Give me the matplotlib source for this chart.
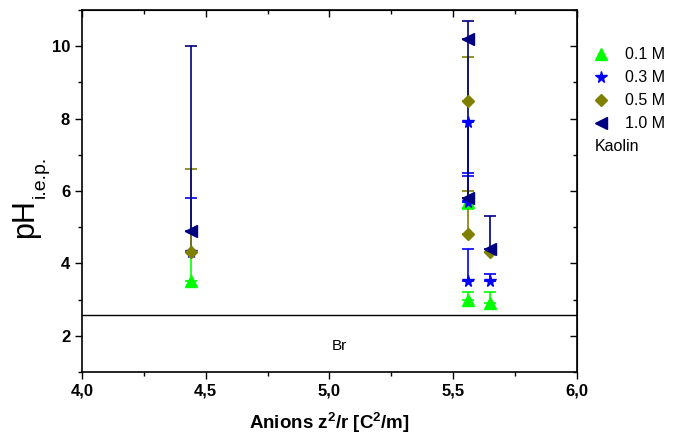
import numpy as np
import matplotlib
matplotlib.use("Agg")
import matplotlib.pyplot as plt
from matplotlib.ticker import MultipleLocator, FuncFormatter

plt.rcParams["font.family"] = ["Liberation Sans", "DejaVu Sans"]
plt.rcParams["mathtext.fontset"] = "custom"
plt.rcParams["mathtext.rm"] = "Liberation Sans"
plt.rcParams["mathtext.it"] = "Liberation Sans:italic"
plt.rcParams["mathtext.bf"] = "Liberation Sans:bold"

# anion z^2/r positions and isoelectric points per electrolyte concentration
x_01 = [4.44, 5.56, 5.56, 5.65]
y_01 = [3.5, 5.7, 3.0, 2.9]
up_01 = [0.8, 0.0, 0.2, 0.3]
dn_01 = [0.0, 0.2, 0.0, 0.0]

x_03 = [4.44, 5.56, 5.56, 5.56, 5.65]
y_03 = [4.3, 7.9, 5.7, 3.5, 3.5]
up_03 = [1.5, 0.0, 0.7, 0.9, 0.2]
dn_03 = [0.0, 1.4, 0.0, 0.0, 0.0]

x_05 = [4.44, 5.56, 5.56, 5.65]
y_05 = [4.3, 8.5, 4.8, 4.3]
up_05 = [2.3, 1.2, 1.2, 0.0]

x_10 = [4.44, 5.56, 5.56, 5.65]
y_10 = [4.9, 10.2, 5.8, 4.4]
up_10 = [5.1, 0.5, 4.4, 0.9]

kaolin_ph = 2.56
anion_label = "Br"
anion_label_pos = (5.04, 1.72)

fig = plt.figure(figsize=(6.74, 4.38), dpi=100)
ax = fig.add_axes([0.1217, 0.151, 0.7343, 0.826])

series = [
    (x_01, y_01, [dn_01, up_01], "^", "#00FF00", 8, "0.1 M"),
    (x_03, y_03, [dn_03, up_03], "*", "#0000FF", 8.5, "0.3 M"),
    (x_05, y_05, [[0] * len(up_05), up_05], "D", "#808000", 6.5, "0.5 M"),
    (x_10, y_10, [[0] * len(up_10), up_10], "<", "#000080", 8, "1.0 M"),
]
handles = []
for xs, ys, err, mk, col, ms, lab in series:
    ax.errorbar(xs, ys, yerr=err, fmt="none", ecolor=col, elinewidth=1.2,
                capsize=4, capthick=1.2, zorder=2)
    h, = ax.plot(xs, ys, ls="none", marker=mk, color=col, ms=ms,
                 mec=col, label=lab, zorder=3)
    handles.append(h)

ax.axhline(kaolin_ph, color="black", lw=1, zorder=1)
ax.text(*anion_label_pos, anion_label, fontsize=11, ha="center", va="center")

blank, = ax.plot([], [], ls="none", marker="none", label="Kaolin")
handles.append(blank)
leg = ax.legend(handles=handles, loc="upper left", bbox_to_anchor=(1.019, 0.915),
                frameon=False, fontsize=11.5, handlelength=1.0, handletextpad=1.0,
                labelspacing=0.5, borderaxespad=0)
for t in leg.get_texts():
    if t.get_text() == "Kaolin":
        t.set_x(-30)

ax.set_xlim(4.0, 6.0)
ax.set_ylim(1, 11)
ax.xaxis.set_major_locator(MultipleLocator(0.5))
ax.xaxis.set_minor_locator(MultipleLocator(0.25))
ax.yaxis.set_major_locator(MultipleLocator(2))
ax.yaxis.set_minor_locator(MultipleLocator(1))
ax.xaxis.set_major_formatter(FuncFormatter(lambda v, p: f"{v:.1f}".replace(".", ",")))
ax.yaxis.set_major_formatter(FuncFormatter(lambda v, p: f"{v:.0f}"))

ax.tick_params(which="both", direction="out", top=False, right=False, width=1)
ax.tick_params(which="major", length=5, labelsize=12)
ax.tick_params(which="minor", length=3)
for lbl in ax.get_xticklabels() + ax.get_yticklabels():
    lbl.set_fontweight("bold")

# mirrored inward ticks on top and right
axt = ax.secondary_xaxis("top")
axt.xaxis.set_major_locator(MultipleLocator(0.5))
axt.xaxis.set_minor_locator(MultipleLocator(0.25))
axt.tick_params(which="both", direction="in", labeltop=False, width=1)
axt.tick_params(which="major", length=5)
axt.tick_params(which="minor", length=3)
axr = ax.secondary_yaxis("right")
axr.yaxis.set_major_locator(MultipleLocator(2))
axr.yaxis.set_minor_locator(MultipleLocator(1))
axr.tick_params(which="both", direction="in", labelright=False, width=1)
axr.tick_params(which="major", length=5)
axr.tick_params(which="minor", length=3)

for sp in ax.spines.values():
    sp.set_linewidth(1.2)

ax.set_xlabel(r"Anions z$^{\mathbf{2}}$/r [C$^{\mathbf{2}}$/m]", fontsize=13.5,
              fontweight="bold", labelpad=9)
# y label: large "pH" with a smaller, lowered "i.e.p." subscript
fig.text(0.037, 1 - 238 / 438, "pH", rotation=90, fontsize=22,
         ha="center", va="bottom")
fig.text(0.060, 1 - 198 / 438, "i.e.p.", rotation=90, fontsize=14,
         ha="center", va="bottom")

fig.savefig("out.png", dpi=100)
